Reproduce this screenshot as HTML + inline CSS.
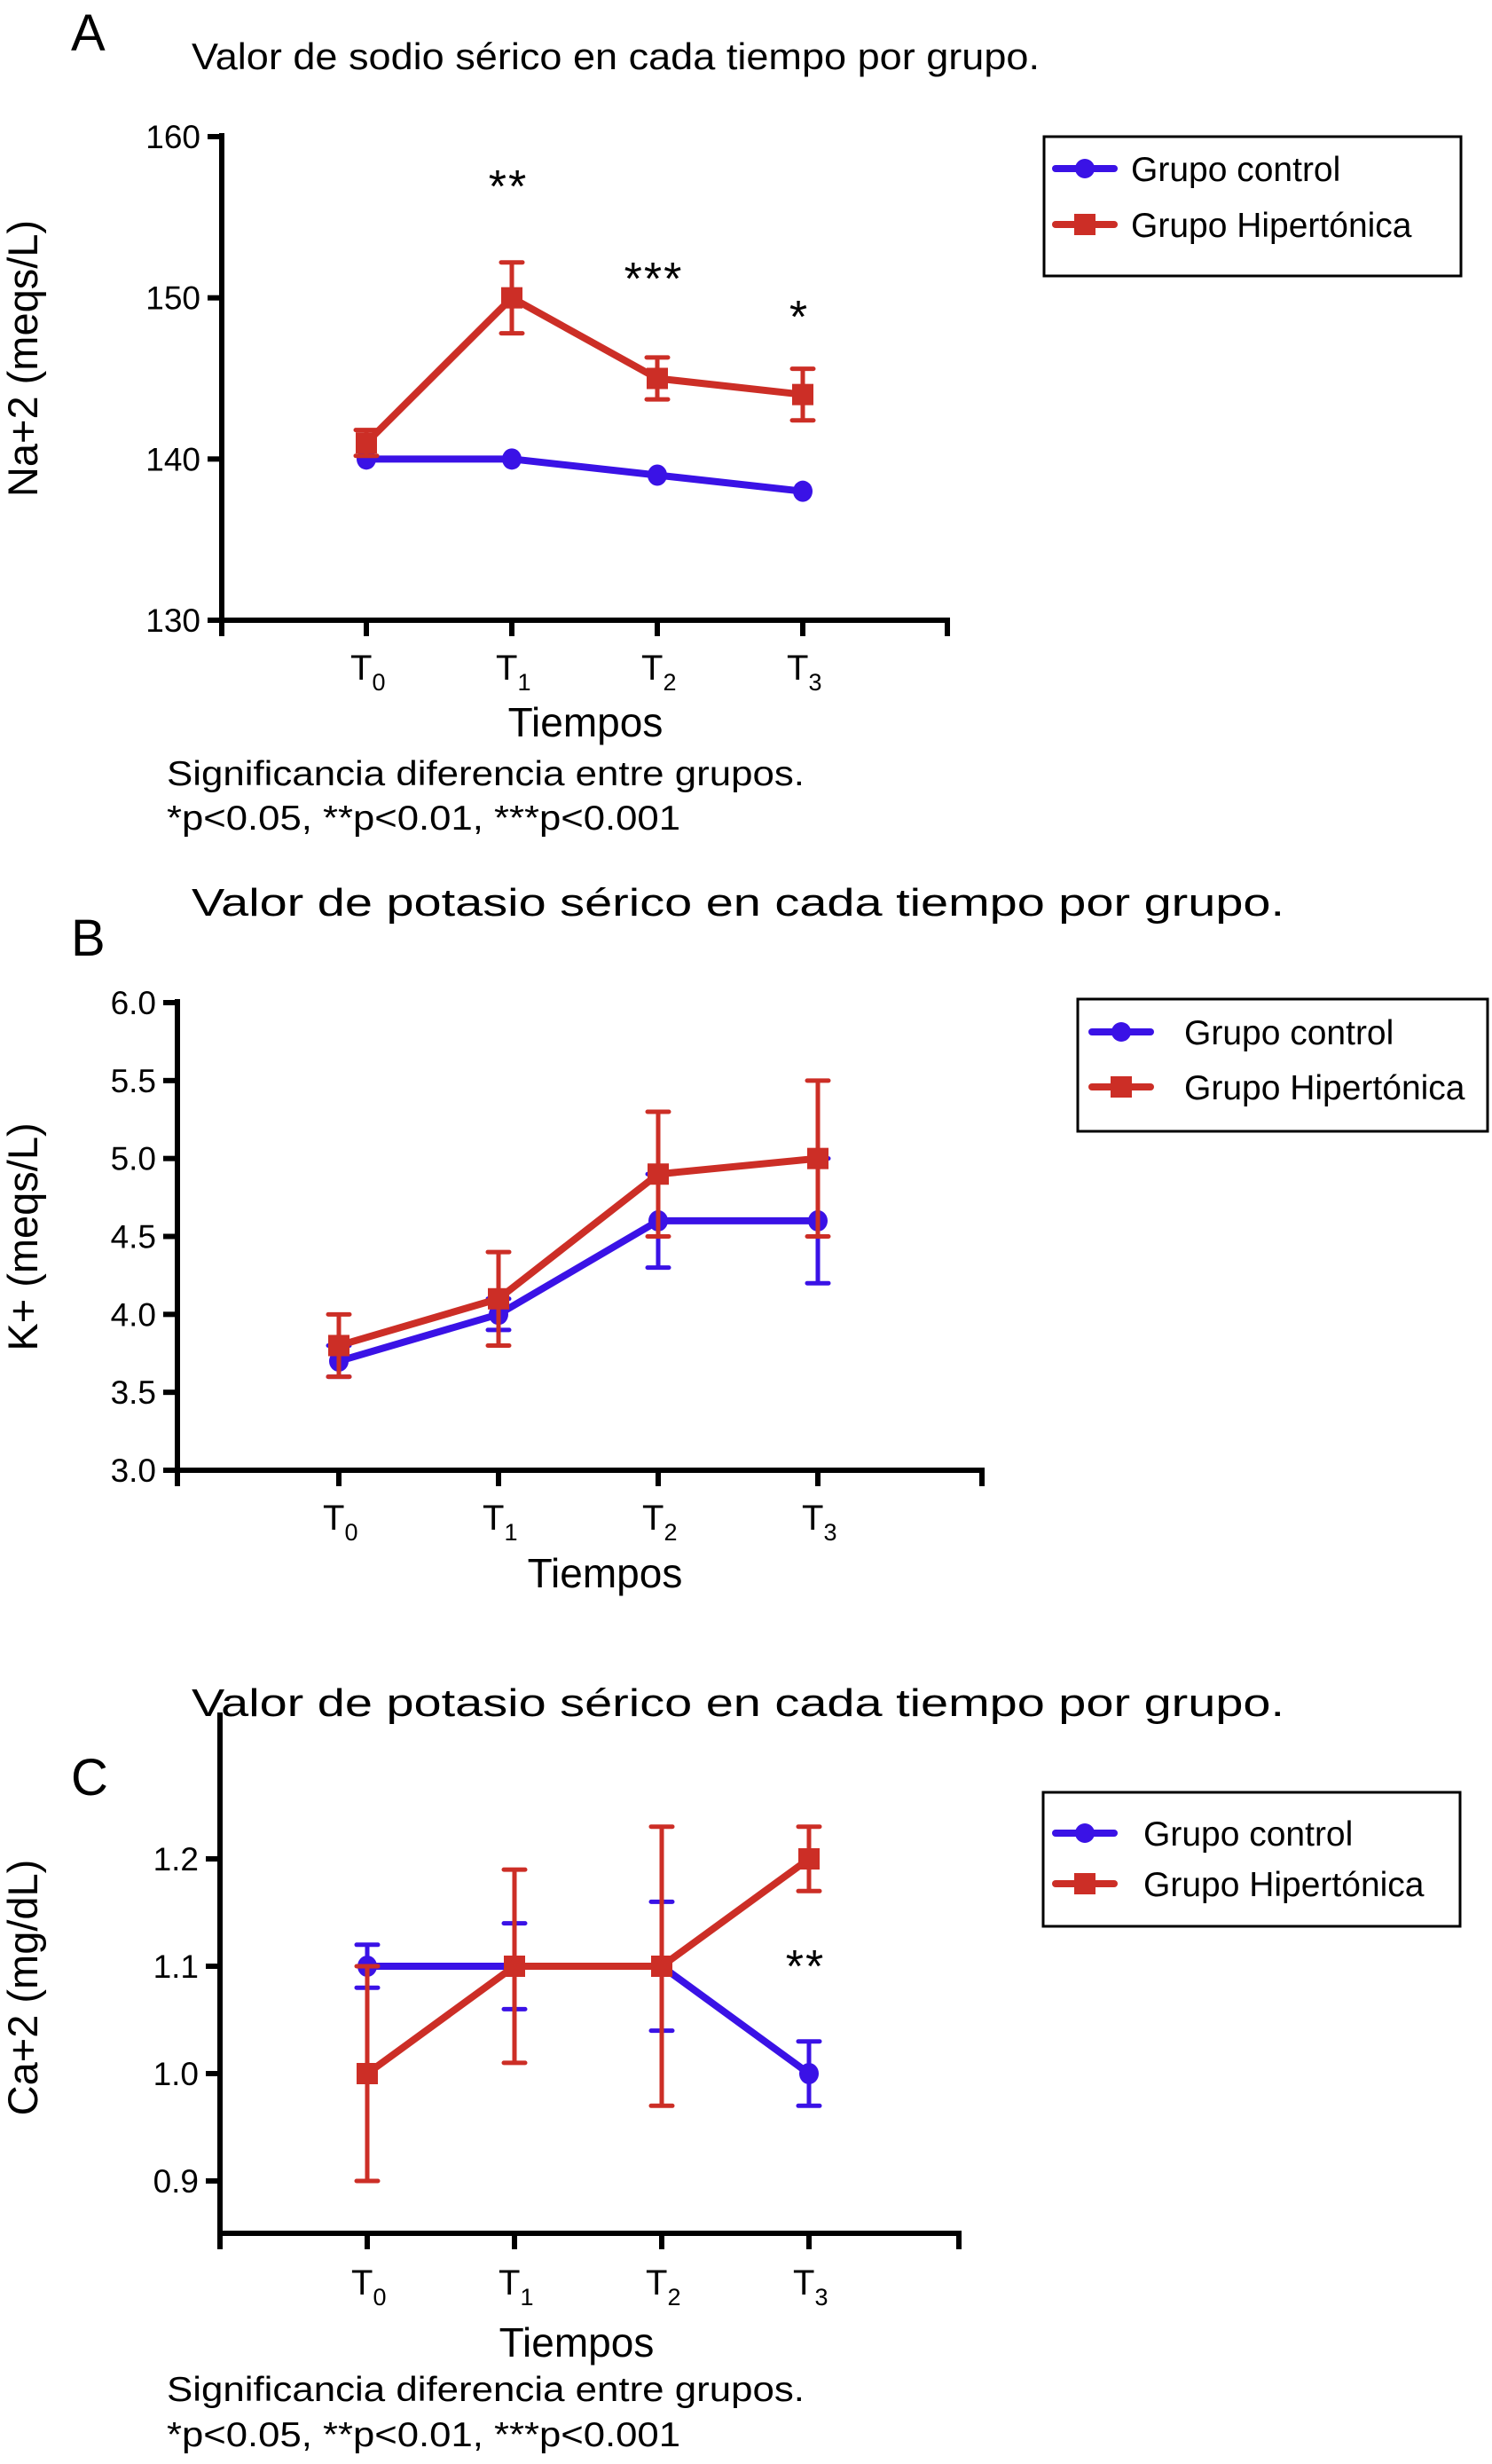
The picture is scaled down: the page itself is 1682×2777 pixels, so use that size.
<!DOCTYPE html>
<html><head><meta charset="utf-8"><style>
html,body{margin:0;padding:0;background:#fff;}
svg{display:block;font-family:"Liberation Sans",sans-serif;}
</style></head><body>
<svg id="fig" width="1682" height="2777" viewBox="0 0 1682 2777" xmlns="http://www.w3.org/2000/svg">
<rect width="1682" height="2777" fill="#fff"/>
<text x="80" y="57" font-size="58">A</text>
<text x="216" y="78" font-size="42" textLength="956" lengthAdjust="spacingAndGlyphs">Valor de sodio sérico en cada tiempo por grupo.</text>
<text x="80" y="1077" font-size="58">B</text>
<text x="216" y="1032" font-size="44" textLength="1232" lengthAdjust="spacingAndGlyphs">Valor de potasio sérico en cada tiempo por grupo.</text>
<text x="80" y="2023" font-size="58">C</text>
<text x="216" y="1934" font-size="44" textLength="1232" lengthAdjust="spacingAndGlyphs">Valor de potasio sérico en cada tiempo por grupo.</text>
<g id="gA"></g>
<g id="gB"></g>
<g id="gC"></g>
<text x="188" y="885" font-size="39" textLength="719" lengthAdjust="spacingAndGlyphs">Significancia diferencia entre grupos.</text>
<text x="188" y="935" font-size="39" textLength="579" lengthAdjust="spacingAndGlyphs">*p&lt;0.05, **p&lt;0.01, ***p&lt;0.001</text>
<text x="188" y="2706" font-size="39" textLength="719" lengthAdjust="spacingAndGlyphs">Significancia diferencia entre grupos.</text>
<text x="188" y="2757" font-size="39" textLength="579" lengthAdjust="spacingAndGlyphs">*p&lt;0.05, **p&lt;0.01, ***p&lt;0.001</text>
</svg>
<script>
const categories = ["0","1","2","3"];
const seriesNames = ["Grupo control","Grupo Hipertónica"];
const aControl = [140,140,139,138];
const aControlErr = [0,0,0,0];
const aHyper = [141,150,145,144];
const aHyperErr = [0.8,2.2,1.3,1.6];
const aTicks = [130,140,150,160];
const aStars = ["","**","***","*"];
const bControl = [3.7,4.0,4.6,4.6];
const bControlErr = [0.1,0.1,0.3,0.4];
const bHyper = [3.8,4.1,4.9,5.0];
const bHyperErr = [0.2,0.3,0.4,0.5];
const bTicks = ["3.0","3.5","4.0","4.5","5.0","5.5","6.0"];
const bStars = ["","","",""];
const cControl = [1.1,1.1,1.1,1.0];
const cControlErr = [0.02,0.04,0.06,0.03];
const cHyper = [1.0,1.1,1.1,1.2];
const cHyperErr = [0.1,0.09,0.13,0.03];
const cTicks = ["0.9","1.0","1.1","1.2"];
const cStars = ["","","","**"];

const NS="http://www.w3.org/2000/svg";
const BLUE="#3a12e6", RED="#cc2e26";
function mk(p,tag,attrs){const e=document.createElementNS(NS,tag);for(const k in attrs)e.setAttribute(k,attrs[k]);p.appendChild(e);return e;}

function chart(g,o){
  const y=v=>o.yBot-(v-o.yMin)/(o.yMax-o.yMin)*(o.yBot-o.yTop);
  const x=i=>o.xs[0]+i*(o.xs[1]-o.xs[0]);
  const ya=mk(g,'line',{x1:o.ax,y1:o.axTop,x2:o.ax,y2:o.axisY+3,stroke:'#000','stroke-width':6});
  
  
  const xa=mk(g,'line',{x1:o.ax-3,y1:o.axisY,x2:o.axEnd,y2:o.axisY,stroke:'#000','stroke-width':6});
  
  
  mk(g,'line',{x1:o.ax,y1:o.axisY,x2:o.ax,y2:o.axisY+18,stroke:'#000','stroke-width':6});
  mk(g,'line',{x1:o.axEnd-3,y1:o.axisY-3,x2:o.axEnd-3,y2:o.axisY+18,stroke:'#000','stroke-width':6});
  o.ticks.forEach(t=>{
    const v=parseFloat(t), yy=y(v);
    mk(g,'line',{x1:o.ax-16,y1:yy,x2:o.ax,y2:yy,stroke:'#000','stroke-width':6});
    const tx=mk(g,'text',{x:o.ax-24,y:yy+13,'font-size':37,'text-anchor':'end'});
    
    
    tx.textContent=t;
  });
  categories.forEach((c,i)=>{
    const xx=x(i);
    mk(g,'line',{x1:xx,y1:o.axisY,x2:xx,y2:o.axisY+18,stroke:'#000','stroke-width':6});
    const tx=mk(g,'text',{x:xx-18,y:o.tickY,'font-size':40});
    
    
    tx.textContent='T';
    const s=mk(tx,'tspan',{dy:12,'font-size':27});
    s.textContent=c;
  });
  const xt=mk(g,'text',{x:o.xTitleX,y:o.xTitleY,'font-size':46,'text-anchor':'middle'});
  
  
  xt.textContent='Tiempos';
  const yt=mk(g,'text',{x:0,y:0,'font-size':47,'text-anchor':'middle',transform:`translate(${o.yTitleX},${o.yTitleY}) rotate(-90)`});
  
  
  yt.textContent=o.yTitle;
  const series=[[o.hyp,o.hypErr,RED,'sq'],[o.ctl,o.ctlErr,BLUE,'ci']];
  const order=[series[1],series[0]];
  order.forEach(([vals,errs,col,shape])=>{
    errs.forEach((e,i)=>{ if(!e) return;
      const xx=x(i);
      const eb=mk(g,'path',{d:`M${xx},${y(vals[i]+e)}V${y(vals[i]-e)}M${xx-12},${y(vals[i]+e)}h24M${xx-12},${y(vals[i]-e)}h24`,stroke:col,'stroke-width':5,fill:'none','stroke-linecap':'round'});
      
      
    });
    const pl=mk(g,'polyline',{points:vals.map((v,i)=>x(i)+','+y(v)).join(' '),fill:'none',stroke:col,'stroke-width':8,'stroke-linejoin':'round'});
    
    
    vals.forEach((v,i)=>{
      let m;
      if(shape==='sq') m=mk(g,'rect',{x:x(i)-12,y:y(v)-12,width:24,height:24,fill:col});
      else m=mk(g,'ellipse',{cx:x(i),cy:y(v),rx:11,ry:12,fill:col});
      
      
    });
  });
  o.stars.forEach((s,i)=>{ if(!s) return;
    const st=mk(g,'text',{x:x(i)-4,y:o.starY[i],'font-size':52,'text-anchor':'middle','letter-spacing':2});
    
    
    st.textContent=s;
  });
  const L=o.leg;
  const lb=mk(g,'rect',{x:L.x,y:L.y,width:L.w,height:L.h,fill:'#fff',stroke:'#000','stroke-width':3});
  
  
  [[BLUE,'ci',L.r1],[RED,'sq',L.r2]].forEach(([col,sh,ry],k)=>{
    mk(g,'line',{x1:L.lx,y1:ry,x2:L.lx+66,y2:ry,stroke:col,'stroke-width':8,'stroke-linecap':'round'});
    if(sh==='ci') mk(g,'circle',{cx:L.lx+33,cy:ry,r:11,fill:col});
    else mk(g,'rect',{x:L.lx+21,y:ry-12,width:24,height:24,fill:col});
    const t=mk(g,'text',{x:L.tx,y:ry+14,'font-size':39});
    
    
    t.textContent=seriesNames[k];
  });
}

chart(document.getElementById('gA'),{
  yMin:130,yMax:160,yTop:154,yBot:699,ax:250,axTop:150,axisY:699,axEnd:1071,
  xs:[413,577],ticks:aTicks.map(String),tickY:766,xTitleX:660,xTitleY:830,
  yTitleX:42,yTitleY:404,yTitle:'Na+2 (meqs/L)',
  ctl:aControl,ctlErr:aControlErr,hyp:aHyper,hypErr:aHyperErr,
  stars:aStars,starY:[0,228,332,375],
  leg:{x:1177,y:154,w:470,h:157,lx:1190,tx:1275,r1:190,r2:253}
});
chart(document.getElementById('gB'),{
  yMin:3,yMax:6,yTop:1130,yBot:1657,ax:200,axTop:1126,axisY:1657,axEnd:1110,
  xs:[382,562],ticks:bTicks,tickY:1724,xTitleX:682,xTitleY:1789,
  yTitleX:42,yTitleY:1394,yTitle:'K+ (meqs/L)',
  ctl:bControl,ctlErr:bControlErr,hyp:bHyper,hypErr:bHyperErr,
  stars:bStars,starY:[0,0,0,0],
  leg:{x:1215,y:1126,w:462,h:149,lx:1231,tx:1335,r1:1163,r2:1225}
});
chart(document.getElementById('gC'),{
  yMin:0.9,yMax:1.2,yTop:2095,yBot:2458,ax:248,axTop:1930,axisY:2517,axEnd:1084,
  xs:[414,580],ticks:cTicks,tickY:2586,xTitleX:650,xTitleY:2656,
  yTitleX:42,yTitleY:2240,yTitle:'Ca+2 (mg/dL)',
  ctl:cControl,ctlErr:cControlErr,hyp:cHyper,hypErr:cHyperErr,
  stars:cStars,starY:[0,0,0,2234],
  leg:{x:1176,y:2020,w:470,h:151,lx:1190,tx:1289,r1:2066,r2:2123}
});
</script>
</body></html>
